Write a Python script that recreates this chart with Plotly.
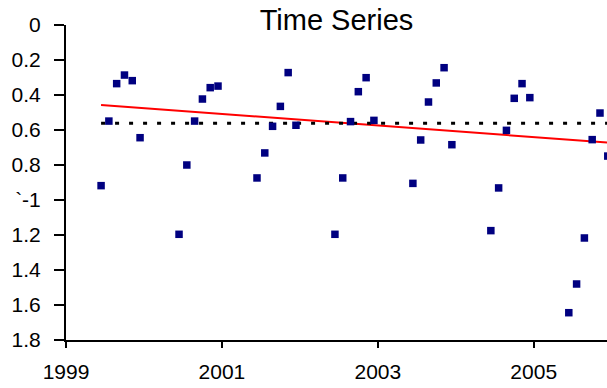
import plotly.graph_objects as go

years = [
    1999.45, 1999.55, 1999.65, 1999.75, 1999.85, 1999.95,
    2000.45, 2000.55, 2000.65, 2000.75, 2000.85, 2000.95,
    2001.45, 2001.55, 2001.65, 2001.75, 2001.85, 2001.95,
    2002.45, 2002.55, 2002.65, 2002.75, 2002.85, 2002.95,
    2003.45, 2003.55, 2003.65, 2003.75, 2003.85, 2003.95,
    2004.45, 2004.55, 2004.65, 2004.75, 2004.85, 2004.95,
    2005.45, 2005.55, 2005.65, 2005.75, 2005.85, 2005.95,
]
values = [
    0.918, 0.549, 0.335, 0.286, 0.318, 0.644,
    1.196, 0.800, 0.549, 0.423, 0.358, 0.349,
    0.874, 0.731, 0.579, 0.465, 0.272, 0.573,
    1.196, 0.874, 0.552, 0.381, 0.301, 0.545,
    0.905, 0.657, 0.440, 0.331, 0.244, 0.684,
    1.175, 0.931, 0.602, 0.419, 0.335, 0.415,
    1.644, 1.480, 1.217, 0.655, 0.503, 0.749,
]

# Trend line end points and reference level
trend_years = [1999.45, 2005.95]
trend_values = [0.457, 0.672]
reference_level = 0.562
reference_years = [1999.45, 2005.95]

# Axis ticks
y_tickvals = [0, 0.2, 0.4, 0.6, 0.8, 1.0, 1.2, 1.4, 1.6, 1.8]
y_ticktext = ["0", "0.2", "0.4", "0.6", "0.8", "`-1", "1.2", "1.4", "1.6", "1.8"]
x_tickvals = [1999, 2001, 2003, 2005]
x_ticktext = ["1999", "2001", "2003", "2005"]

FONT = "Arial, Liberation Sans, sans-serif"

fig = go.Figure()
fig.add_trace(go.Scatter(
    x=trend_years, y=trend_values, mode="lines",
    line=dict(color="#ff0000", width=2), showlegend=False, hoverinfo="skip"))
fig.add_trace(go.Scatter(
    x=reference_years, y=[reference_level] * len(reference_years), mode="lines",
    line=dict(color="#000000", width=3, dash="4px,10px"), showlegend=False, hoverinfo="skip"))
fig.add_trace(go.Scatter(
    x=years, y=values, mode="markers",
    marker=dict(symbol="square", size=7.5, color="#000080", line=dict(width=0)),
    showlegend=False))

fig.update_layout(
    width=607, height=388,
    margin=dict(l=66, r=0, t=25, b=48, pad=0, autoexpand=False),
    paper_bgcolor="white", plot_bgcolor="white",
    font=dict(family=FONT, color="black", size=21),
    title=dict(text="Time Series", x=0.5, xref="paper", xanchor="center",
               y=1 - 20 / 388, yref="container", yanchor="middle",
               font=dict(family=FONT, size=29, color="black")),
)
fig.update_xaxes(
    range=[1999, 2005.94], showgrid=False, zeroline=False,
    showline=True, linecolor="black", linewidth=2,
    ticks="outside", ticklen=6, tickwidth=2, tickcolor="black",
    tickvals=x_tickvals, ticktext=x_ticktext, ticklabelstandoff=6,
    tickfont=dict(family=FONT, size=21, color="black"), automargin=False)
fig.update_yaxes(
    range=[1.8, 0], showgrid=False, zeroline=False,
    showline=True, linecolor="black", linewidth=2,
    ticks="outside", ticklen=10, tickwidth=2, tickcolor="black",
    tickvals=y_tickvals, ticktext=y_ticktext, ticklabelstandoff=9,
    tickfont=dict(family=FONT, size=21, color="black"), automargin=False)

fig.write_html("out.html", config={"displayModeBar": False},
               post_script="document.body.style.margin='0';document.body.style.overflow='hidden';")
